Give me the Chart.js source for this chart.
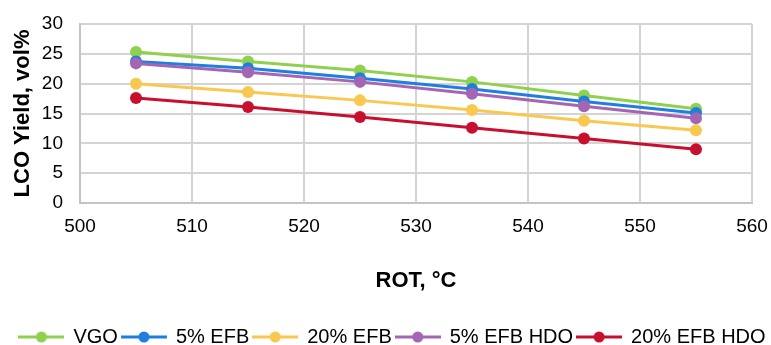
<!DOCTYPE html>
<html>
<head>
<meta charset="utf-8">
<script src="https://cdn.jsdelivr.net/npm/chart.js@4/dist/chart.umd.min.js"></script>
<style>
  html,body{margin:0;padding:0;background:#fff;}
  #wrap{width:771px;height:345px;}
</style>
</head>
<body>
<div id="wrap"><canvas id="c" width="771" height="345"></canvas></div>
<script>
// ROT (°C) vs LCO yield (vol%)
const rot = [505, 515, 525, 535, 545, 555];
const vgo      = [25.3, 23.7, 22.2, 20.3, 18.0, 15.8];
const efb5     = [23.7, 22.6, 20.9, 19.1, 17.0, 15.1];
const efb20    = [20.0, 18.6, 17.2, 15.6, 13.8, 12.2];
const efb5hdo  = [23.4, 21.9, 20.3, 18.3, 16.2, 14.2];
const efb20hdo = [17.6, 16.1, 14.4, 12.6, 10.8, 9.0];
const names  = ['VGO', '5% EFB', '20% EFB', '5% EFB HDO', '20% EFB HDO'];
const series = [vgo, efb5, efb20, efb5hdo, efb20hdo];
const colors = ['#8fd14f', '#1f7fe0', '#f8c850', '#a565b5', '#c8102e'];

const FONT = 'Liberation Sans, Arial, sans-serif';

// legend swatch: line with a dot in the middle
function swatch(col){
  const cv = document.createElement('canvas');
  cv.width = 46; cv.height = 14;
  const g = cv.getContext('2d');
  g.strokeStyle = col; g.lineWidth = 3;
  g.beginPath(); g.moveTo(0,7); g.lineTo(46,7); g.stroke();
  g.fillStyle = col;
  g.beginPath(); g.arc(23,7,5.5,0,Math.PI*2); g.fill();
  return cv;
}

const datasets = series.map((s,i)=>({
  label: names[i],
  data: rot.map((x,j)=>({x:x, y:s[j]})),
  borderColor: colors[i],
  backgroundColor: colors[i],
  borderWidth: 3,
  pointRadius: 6,
  pointHoverRadius: 6,
  pointBorderWidth: 0,
  pointStyle: 'circle',
  order: names.length - i
}));

new Chart(document.getElementById('c'), {
  type: 'line',
  data: { datasets },
  options: {
    responsive: false,
    animation: false,
    layout: { padding: { left: 8, right: -6, top: 0, bottom: -12 } },
    plugins: {
      tooltip: { enabled: false },
      legend: {
        position: 'bottom',
        labels: {
          usePointStyle: true,
          pointStyleWidth: 44,
          padding: 4,
          color: '#000',
          font: { family: FONT, size: 20 },
          generateLabels: ()=> names.map((n,i)=>({
            text: n, datasetIndex: i, pointStyle: swatch(colors[i]),
            fillStyle: colors[i], strokeStyle: colors[i], lineWidth: 0, hidden: false
          }))
        }
      }
    },
    scales: {
      x: {
        type: 'linear', min: 500, max: 560,
        afterFit: (s)=>{ s.height = 120; s.paddingLeft = 0; s.paddingRight = 19; },
        ticks: { stepSize: 10, autoSkip: false, color: '#000', font: { family: FONT, size: 19 }, padding: 12 },
        grid: { color: '#d4d4d4', lineWidth: 2, drawTicks: false },
        border: { color: '#c4c4c4', width: 2 },
        title: { display: true, text: 'ROT, °C', color: '#000', font: { family: FONT, size: 22, weight: 'bold' }, padding: { top: 30, bottom: 29 } }
      },
      y: {
        min: 0, max: 30,
        afterFit: (s)=>{ s.width = 72; s.paddingTop = 24; s.paddingBottom = 0; },
        ticks: { stepSize: 5, autoSkip: false, color: '#000', font: { family: FONT, size: 19 }, padding: 17 },
        grid: { color: '#d4d4d4', lineWidth: 2, drawTicks: false },
        border: { color: '#c4c4c4', width: 2 },
        title: { display: true, text: 'LCO Yield, vol%', color: '#000', font: { family: FONT, size: 22, weight: 'bold' }, padding: { top: 2, bottom: 4 } }
      }
    }
  }
});
</script>
</body>
</html>
